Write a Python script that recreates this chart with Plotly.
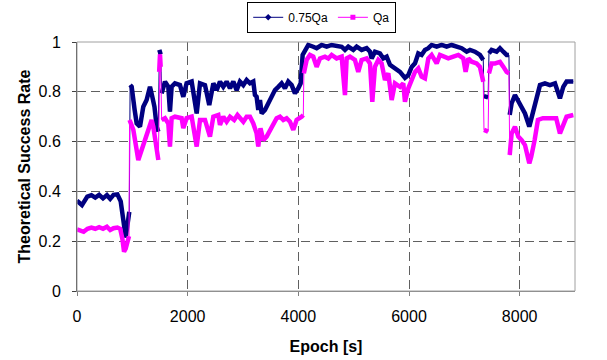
import plotly.graph_objects as go

# ---- data ----
t_075 = [0, 90, 186, 260, 330, 400, 470, 540, 600, 660, 730, 790, 840, 880, 915, 945,
         960, 988, 1040, 1078, 1138, 1198, 1258, 1319, 1361, 1400, 1440, 1470,
         1488, 1512, 1530, 1590, 1650, 1680, 1710, 1770, 1861, 1921, 1981, 2072, 2163,
         2223, 2313, 2390, 2464, 2524, 2584, 2644, 2704, 2765, 2825, 2885, 2945, 3006,
         3066, 3126, 3186, 3216, 3246, 3276, 3307, 3337, 3397, 3457, 3517, 3578, 3638,
         3698, 3758, 3818, 3879, 3939, 3999, 4042, 4078, 4120, 4180, 4270, 4331, 4421,
         4512, 4602, 4692, 4783, 4843, 4903, 4993, 5054, 5144, 5234, 5295, 5325, 5385,
         5475, 5536, 5596, 5656, 5746, 5837, 5927, 5987, 6048, 6108, 6168, 6228, 6288,
         6349, 6409, 6500, 6590, 6680, 6770, 6861, 6951, 7042, 7102, 7192, 7282, 7342,
         7355, 7430, 7445, 7493, 7583, 7644, 7704, 7764, 7806,
         7820, 7855, 7915, 7975, 8036, 8096, 8174, 8246, 8306, 8367, 8457, 8547, 8638,
         8728, 8788, 8848, 8969]
v_075 = [0.363, 0.345, 0.379, 0.385, 0.375, 0.386, 0.372, 0.385, 0.370, 0.386, 0.388, 0.36,
         0.28, 0.215, 0.27, 0.318,
         0.827, 0.82, 0.73, 0.673, 0.66, 0.74, 0.767, 0.82, 0.78, 0.74, 0.66, 0.64,
         0.968, 0.95, 0.794, 0.841, 0.82, 0.72, 0.82, 0.834, 0.827, 0.78, 0.834, 0.841, 0.713,
         0.834, 0.827, 0.747, 0.834, 0.807, 0.841, 0.82, 0.841, 0.814, 0.841, 0.807, 0.841, 0.827,
         0.847, 0.834, 0.841, 0.787, 0.78, 0.727, 0.767, 0.713, 0.727, 0.754, 0.787, 0.807, 0.82,
         0.834, 0.814, 0.841, 0.827, 0.794, 0.814, 0.834, 0.948, 0.968, 0.988, 0.981, 0.975, 0.988,
         0.981, 0.988, 0.984, 0.981, 0.968, 0.981, 0.968, 0.981, 0.968, 0.975, 0.961, 0.934, 0.961,
         0.954, 0.934, 0.941, 0.908, 0.894, 0.88, 0.856, 0.867, 0.90, 0.914, 0.954, 0.948, 0.968,
         0.975, 0.988, 0.981, 0.988, 0.981, 0.988, 0.981, 0.975, 0.961, 0.968, 0.961, 0.948, 0.928,
         0.783, 0.778, 0.954, 0.968, 0.961, 0.975, 0.961, 0.948, 0.948,
         0.707, 0.754, 0.787, 0.76, 0.74, 0.713, 0.66, 0.727, 0.787, 0.827, 0.834, 0.827, 0.834,
         0.774, 0.82, 0.841, 0.841]

t_qa = [0, 60, 120, 190, 260, 330, 400, 470, 540, 600, 660, 730, 780, 820, 850, 880, 910, 940,
        950, 1018, 1108, 1168, 1229, 1289, 1349, 1379, 1440, 1470,
        1485, 1500, 1512, 1530, 1590, 1650, 1680, 1710, 1770, 1891, 1921, 1981, 2072, 2163,
        2223, 2313, 2403, 2464, 2554, 2584, 2644, 2704, 2765, 2840, 2900, 3006, 3066, 3126,
        3186, 3246, 3276, 3316, 3367, 3427, 3487, 3548, 3608, 3668, 3728, 3788, 3849, 3909,
        3969, 4060, 4090, 4100, 4150, 4210, 4270, 4331, 4391, 4481, 4542, 4602, 4692, 4783,
        4843, 4873, 4933, 5023, 5083, 5144, 5234, 5295, 5337, 5385, 5445, 5505, 5566, 5626,
        5687, 5746, 5837, 5897, 5927, 5987, 6048, 6108, 6168, 6228, 6288, 6349, 6409, 6500,
        6560, 6620, 6710, 6801, 6891, 6981, 7023, 7072, 7132, 7222, 7282, 7342,
        7355, 7430, 7445, 7493, 7553, 7644, 7704, 7764, 7806,
        7820, 7855, 7915, 7975, 8036, 8096, 8174, 8210, 8270, 8330, 8420, 8547, 8660,
        8728, 8788, 8848, 8969]
v_qa = [0.248, 0.242, 0.238, 0.25, 0.255, 0.25, 0.256, 0.25, 0.258, 0.245, 0.252, 0.255, 0.25,
        0.21, 0.158, 0.17, 0.20, 0.22,
        0.687, 0.647, 0.526, 0.566, 0.62, 0.654, 0.687, 0.66, 0.553, 0.526,
        0.88, 0.95, 0.90, 0.687, 0.694, 0.673, 0.58, 0.694, 0.70, 0.694, 0.654, 0.694, 0.70, 0.58,
        0.687, 0.687, 0.62, 0.70, 0.707, 0.667, 0.70, 0.68, 0.70, 0.687, 0.707, 0.68, 0.70, 0.70,
        0.673, 0.633, 0.58, 0.654, 0.606, 0.62, 0.647, 0.673, 0.694, 0.70, 0.687, 0.694, 0.68, 0.647,
        0.687, 0.70, 0.707, 0.874, 0.928, 0.948, 0.941, 0.90, 0.934, 0.941, 0.934, 0.948, 0.934, 0.941,
        0.787, 0.934, 0.941, 0.928, 0.88, 0.928, 0.934, 0.914, 0.76, 0.901, 0.928, 0.914, 0.847, 0.874,
        0.767, 0.834, 0.82, 0.834, 0.76, 0.814, 0.847, 0.88, 0.894, 0.861, 0.854, 0.934, 0.948, 0.914,
        0.948, 0.941, 0.934, 0.941, 0.948, 0.934, 0.88, 0.934, 0.921, 0.914, 0.90, 0.84,
        0.647, 0.64, 0.874, 0.914, 0.914, 0.92, 0.901, 0.88, 0.874,
        0.546, 0.633, 0.66, 0.62, 0.606, 0.586, 0.513, 0.54, 0.606, 0.687, 0.694, 0.694, 0.694,
        0.633, 0.673, 0.70, 0.707]

series_names = ["0.75Qa", "Qa"]
series_colors = ["#000080", "#FF00FF"]
series_symbols = ["diamond", "square"]
x_ticks = [0, 2000, 4000, 6000, 8000]
y_ticks = [0, 0.2, 0.4, 0.6, 0.8, 1]
y_tick_text = ["0", "0.2", "0.4", "0.6", "0.8", "1"]


def split_jumps(t, v):
    """Break the thick trace where consecutive samples jump quickly."""
    xs, ys = [], []
    for i in range(len(t)):
        if i > 0 and (t[i] - t[i - 1]) <= 20 and abs(v[i] - v[i - 1]) > 0.1:
            xs.append(None)
            ys.append(None)
        xs.append(t[i])
        ys.append(v[i])
    return xs, ys


fig = go.Figure()
for t, v, name, col, sym in [(t_075, v_075, series_names[0], series_colors[0], series_symbols[0]),
                             (t_qa, v_qa, series_names[1], series_colors[1], series_symbols[1])]:
    fig.add_trace(go.Scatter(x=t, y=v, mode="lines", line=dict(color=col, width=1),
                             showlegend=False, hoverinfo="skip"))
    xs, ys = split_jumps(t, v)
    fig.add_trace(go.Scatter(x=xs, y=ys, mode="lines", line=dict(color=col, width=4.5),
                             showlegend=False, connectgaps=False))
    fig.add_trace(go.Scatter(x=[None], y=[None], mode="lines+markers", name=name,
                             line=dict(color=col, width=1),
                             marker=dict(symbol=sym, size=5, color=col)))

font = "Liberation Sans, Arial, sans-serif"
fig.update_layout(
    width=607, height=360,
    margin=dict(l=77, r=32, t=42, b=69, autoexpand=False),
    paper_bgcolor="white", plot_bgcolor="white",
    font=dict(family=font, size=16, color="#000000"),
    showlegend=True,
    legend=dict(orientation="h", x=0.53, xanchor="center", xref="container",
                y=0.995, yref="container", yanchor="top", bgcolor="white",
                bordercolor="#000000", borderwidth=1,
                font=dict(size=12, family=font), tracegroupgap=0),
    xaxis=dict(range=[0, 9000], tickvals=x_ticks, ticks="outside", ticklen=4,
               tickcolor="#808080", showline=True, linecolor="#808080", linewidth=1,
               showgrid=True, gridcolor="#606060", griddash="9px,5px", gridwidth=1,
               zeroline=False, tickfont=dict(size=16), ticklabelstandoff=7,
               title=dict(text="<b>Epoch [s]</b>", font=dict(size=16), standoff=16)),
    yaxis=dict(range=[0, 1], tickvals=y_ticks, ticktext=y_tick_text, ticks="outside",
               ticklen=4, tickcolor="#404040", showline=True, linecolor="#404040",
               linewidth=1, showgrid=True, gridcolor="#606060", griddash="9px,5px",
               gridwidth=1, zeroline=False, tickfont=dict(size=16), ticklabelstandoff=8,
               title=dict(text="<b>Theoretical Success Rate</b>", font=dict(size=16),
                          standoff=3)),
    shapes=[dict(type="rect", xref="paper", yref="paper", x0=0, x1=1, y0=0, y1=1,
                 line=dict(color="#A0A0A0", width=1), layer="above")],
)

fig.write_html("out.html", config={"displayModeBar": False},
               post_script="document.body.style.margin='0';")
